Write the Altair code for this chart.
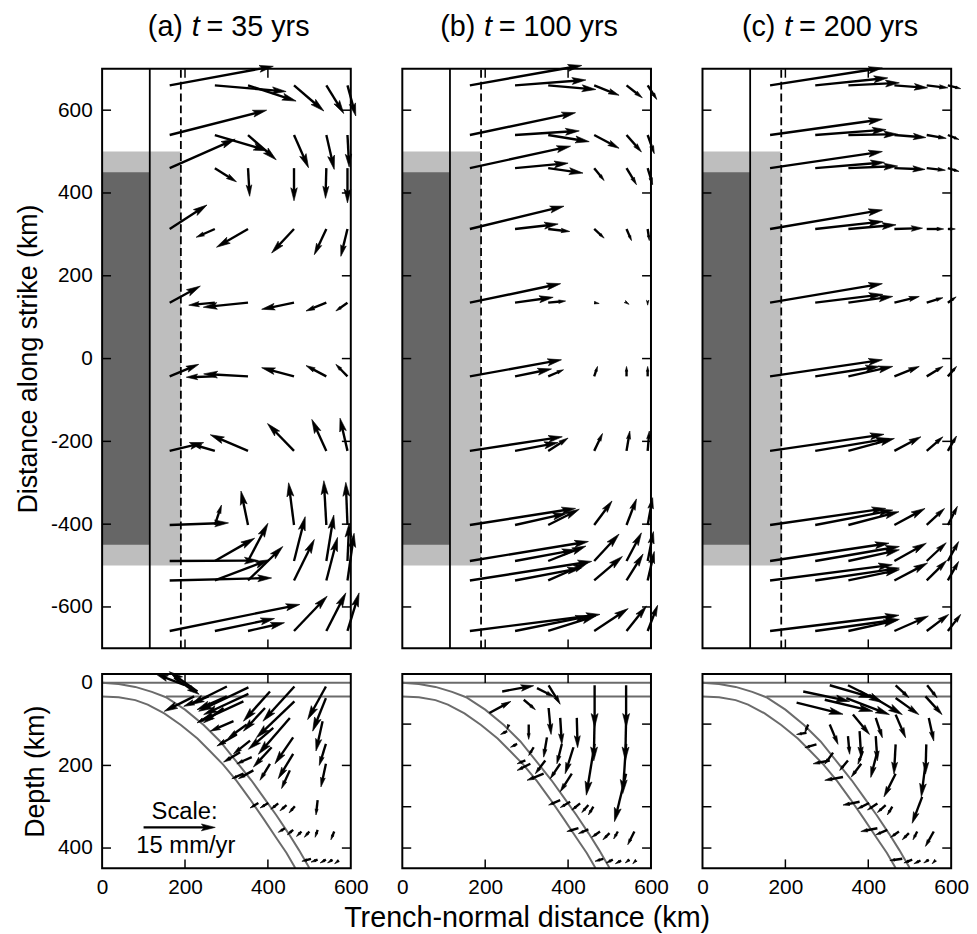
import math
import altair as alt
import pandas as pd

FONT = "Liberation Sans"
KM_PX = 251 / 600.0          # pixels per km (equal aspect)
TICK_KM = 9 / KM_PX          # inward tick length

# ---------------- map-view grid (top panels) ----------------
X_COLS = [163, 272, 352, 463, 541, 592]
Y_ROWS = [660, 540, 460, 313, 135, -43, -223, -402, -489, -536, -658]

A_DX = [
    [250, 172, 116, 72, 42, 20],
    [234, 127, 68, 35, 19, 4],
    [158, 52, 4, 0, -2, 0],
    [90, -45, -76, -54, -29, -16],
    [74, -63, -108, -78, -49, -28],
    [70, -69, -107, -78, -49, -28],
    [82, -55, -91, -64, -35, -18],
    [142, 16, -17, -13, -6, -4],
    [214, 96, 48, 27, 18, 4],
    [246, 131, 84, 49, 27, 16],
    [314, 144, 88, 80, 47, 28],
]
A_DY = [
    [46, -15, -38, -62, -68, -74],
    [60, -38, -60, -79, -83, -77],
    [70, -33, -68, -79, -73, -84],
    [58, -20, -44, -58, -62, -66],
    [40, -6, -11, -16, -20, -20],
    [29, -2, 6, 21, 26, 29],
    [20, 16, 39, 66, 76, 79],
    [5, 48, 82, 102, 107, 103],
    [1, 55, 91, 107, 111, 91],
    [6, 50, 82, 99, 104, 114],
    [64, 30, 20, 84, 92, 92],
]
B_DX = [
    [270, 171, 115, 60, 38, 22],
    [255, 155, 99, 60, 36, 16],
    [243, 128, 84, 24, 24, 12],
    [227, 104, 52, 24, 12, 4],
    [219, 92, 42, 12, 6, 0],
    [221, 88, 37, 8, 0, 0],
    [223, 104, 48, 20, 8, 4],
    [255, 125, 75, 43, 24, 12],
    [286, 147, 91, 60, 36, 14],
    [294, 160, 95, 68, 40, 16],
    [314, 179, 115, 82, 48, 24],
]
B_DY = [
    [48, 13, -10, -24, -30, -34],
    [54, 10, -16, -32, -41, -45],
    [53, 12, -12, -30, -40, -40],
    [55, 12, -6, -22, -28, -28],
    [46, 13, 4, -2, -4, -6],
    [40, 18, 16, 24, 24, 24],
    [34, 20, 31, 42, 48, 48],
    [40, 28, 38, 58, 63, 66],
    [47, 27, 36, 65, 68, 71],
    [46, 30, 42, 58, 64, 70],
    [40, 36, 36, 54, 60, 62],
]
C_DX = [
    [271, 175, 123, 80, 51, 31],
    [271, 171, 119, 76, 47, 27],
    [271, 167, 119, 74, 45, 27],
    [271, 163, 115, 68, 41, 18],
    [271, 163, 107, 60, 39, 20],
    [271, 155, 107, 60, 39, 21],
    [275, 179, 111, 64, 39, 21],
    [279, 187, 122, 74, 43, 23],
    [287, 203, 123, 77, 47, 26],
    [295, 203, 123, 80, 48, 26],
    [311, 203, 119, 82, 53, 31],
]
C_DY = [
    [42, 18, 6, -6, -6, -8],
    [38, 13, 2, -6, -8, -11],
    [40, 14, 5, -3, -5, -8],
    [46, 18, 10, 2, 0, 0],
    [46, 20, 15, 15, 12, 14],
    [40, 24, 24, 24, 24, 24],
    [40, 30, 30, 34, 34, 36],
    [40, 36, 32, 40, 40, 45],
    [43, 35, 27, 43, 44, 47],
    [38, 30, 26, 42, 48, 46],
    [38, 28, 26, 36, 40, 40],
]

# ---------------- cross-section arrows (bottom panels) ----------------
BA_X = [353, 353, 341, 301, 301, 293, 265, 405, 464, 464, 453, 540, 540, 532, 540, 540, 520, 560,
        461, 461, 453, 393, 413, 409, 405, 349, 357, 361, 365, 317, 325, 333, 341,
        377, 401, 425, 445, 465, 441, 461, 481, 500, 520, 504, 520, 540, 556, 571,
        198, 230, 174, 222, 257]
BA_D = [11, 27, 45, 9, 33, 61, 77, 21, 9, 45, 85, 9, 37, 93, 148, 196, 284, 360,
        132, 172, 212, 61, 109, 156, 196, 101, 140, 180, 212, 93, 125, 168, 220,
        291, 291, 292, 296, 299, 352, 356, 360, 360, 356, 426, 428, 428, 428, 430,
        5, 21, -12, 33, 33]
BA_U = [-120, -108, -104, -88, -72, -48, -36, -64, -76, -92, -76, -44, -32, -16, -16, -12, -4, -8,
        -44, -36, -20, -52, -60, -44, -24, -44, -40, -36, -36, -56, -48, -40, -28,
        -20, -20, -18, -16, -14, -16, -14, -12, -12, -6, -22, -16, -14, -12, -10,
        -68, -68, 60, -72, -60]
BA_W = [58, 50, 48, 44, 32, 36, 20, 72, 84, 88, 88, 80, 80, 72, 52, 56, 36, 20,
        64, 60, 44, 56, 52, 48, 40, 32, 32, 16, 20, 24, 28, 24, 12,
        12, 12, 14, 14, 16, 10, 12, 12, 14, 18, 6, 6, 8, 8, 8,
        -26, -48, 40, 36, 24]

BB_X = [241, 353, 325, 293, 210, 464, 540, 464, 540, 464, 540, 540, 560,
        421, 413, 409, 381, 385, 381, 353, 349, 345, 305, 317, 309, 341, 257, 253, 277, 297,
        381, 405, 429, 449, 461, 425, 449, 477, 500, 520, 485, 508, 528, 548, 564]
BB_D = [21, 6, 13, 41, 73, 6, 6, 85, 85, 148, 148, 220, 360,
        85, 156, 220, 85, 148, 196, 61, 132, 188, 101, 156, 196, 220, 101, 117, 148, 188,
        284, 288, 292, 296, 300, 352, 355, 360, 364, 360, 426, 428, 430, 428, 430]
BB_U = [76, 28, 40, 28, 52, 0, 0, -2, -2, -20, -8, -28, -16,
        2, -20, -28, 4, -12, -24, 6, -8, -24, 0, -12, -32, -40, -4, -16, -16, -20,
        -28, -24, -20, -16, -12, -28, -24, -20, -16, -10, -20, -16, -14, -10, -8]
BB_W = [-14, 46, 20, 24, -28, 102, 102, 104, 104, 124, 120, 116, 32,
        72, 64, 44, 64, 48, 36, 64, 48, 32, 36, 20, 16, 16, 12, 8, 8, 8,
        12, 14, 16, 18, 20, 8, 10, 14, 16, 18, 6, 8, 8, 8, 8]

BC_X = [243, 307, 351, 466, 542, 227, 295, 347, 402, 466, 538, 363, 418, 466, 546,
        307, 351, 379, 418, 466, 540, 466, 538, 530, 558, 387, 422, 383, 351, 315,
        255, 251, 275, 307, 339,
        379, 402, 422, 442, 458, 422, 446, 474, 498, 518, 482, 506, 526, 546, 562]
BC_D = [21, 6, 6, 6, 6, 48, 41, 37, 29, 37, 33, 77, 85, 77, 85,
        101, 129, 117, 129, 149, 149, 220, 196, 276, 360, 165, 165, 196, 188, 169,
        101, 121, 149, 188, 228,
        288, 291, 292, 296, 300, 352, 356, 360, 364, 360, 426, 428, 430, 428, 430]
BC_U = [112, 104, 84, 32, 24, 112, 116, 104, 80, 56, 40, 40, 16, 24, 12,
        20, 4, 4, 4, -4, -2, -28, -10, -24, -20, -12, -16, -24, -20, -20,
        -8, -24, -28, -40, -44,
        -40, -28, -24, -20, -12, -40, -28, -20, -16, -10, -30, -20, -16, -12, -8]
BC_W = [24, 30, 42, 30, 30, 28, 28, 40, 48, 40, 44, 48, 48, 56, 56,
        48, 44, 64, 60, 72, 72, 56, 80, 64, 36, 32, 64, 32, 24, 28,
        20, 4, 8, 8, 8,
        8, 14, 16, 18, 20, 8, 12, 14, 16, 20, 4, 8, 8, 8, 8]

# slab outlines and crust lines (cross-section)
SLAB_TOP_X = [0, 40, 80, 120, 154, 200, 245, 285, 325, 360, 390, 420, 450, 475, 500]
SLAB_TOP_D = [0, 3, 10, 22, 35, 65, 102, 142, 192, 236, 278, 320, 365, 405, 448]
SLAB_BOT_X = [0, 40, 80, 110, 150, 190, 230, 260, 292, 325, 357, 390, 420, 445, 466]
SLAB_BOT_D = [33, 35, 42, 53, 74, 102, 135, 165, 198, 238, 282, 330, 375, 412, 448]
SURFACE_X = [0, 600]
SURFACE_D = 0
MOHO_X = [154, 600]
MOHO_D = 33

# rupture zones (map view)
LIGHT_X = [0, 190]
LIGHT_Y = [-500, 500]
DARK_X = [0, 115]
DARK_Y = [-450, 450]
TRENCH_X = 115
DASH_X = 190

# scale arrow (15 mm/yr)
SCALE_TAIL = (100, 350)
SCALE_VEC = (173, 0)

X_DOMAIN = [0, 600]
TOP_DOMAIN = [-700, 700]
BOT_DOMAIN = [-21, 449]
TOP_YTICKS = [-600, -400, -200, 0, 200, 400, 600]
X_TICKS_IN = [200, 400]
X_LABELS = [0, 200, 400, 600]

HEAD_PATH = "M0,0L0.5,2L0,1.6L-0.5,2Z"
SHAFT_W = 2.4


def arrow_table(xs, ys, us, vs, down=False):
    rows = []
    for x, y, u, v in zip(xs, ys, us, vs):
        L = math.hypot(u, v)
        if L == 0:
            continue
        lpx = L * KM_PX
        head = min(14.0, max(5.0, 0.4 * lpx))
        cut = 0.75 * head / KM_PX
        f = max(0.0, 1 - cut / L)
        ang = math.degrees(math.atan2(u, -v if down else v)) % 360
        rows.append(dict(x=x, y=y, xe=x + u * f, ye=y + v * f,
                         tx=x + u, ty=y + v, ang=ang, size=head * head))
    return pd.DataFrame(rows)


def grid_vectors(DX, DY):
    xs, ys, us, vs = [], [], [], []
    for i, yv in enumerate(Y_ROWS):
        for j, xv in enumerate(X_COLS):
            xs.append(xv); ys.append(yv); us.append(DX[i][j]); vs.append(DY[i][j])
    return xs, ys, us, vs


def tick_table(ydom, yticks):
    rows = []
    tl = TICK_KM
    for v in yticks:
        rows.append(dict(x=X_DOMAIN[0], x2=X_DOMAIN[0] + tl, y=v, y2=v))
        rows.append(dict(x=X_DOMAIN[1] - tl, x2=X_DOMAIN[1], y=v, y2=v))
    lo, hi = ydom
    for v in X_TICKS_IN:
        rows.append(dict(x=v, x2=v, y=lo, y2=lo + tl))
        rows.append(dict(x=v, x2=v, y=hi - tl, y2=hi))
    return pd.DataFrame(rows)


def arrow_layers(df, X, Y):
    shafts = alt.Chart(df).mark_rule(color="black", strokeWidth=SHAFT_W).encode(
        x=X("x"), y=Y("y"), x2="xe", y2="ye")
    heads = alt.Chart(df).mark_point(shape=HEAD_PATH, filled=True, fill="black",
                                     stroke="black", strokeWidth=0.6, opacity=1).encode(
        x=X("tx"), y=Y("ty"),
        angle=alt.Angle("ang:Q", scale=None),
        size=alt.Size("size:Q", scale=None))
    return [shafts, heads]


def top_panel(DX, DY, tag, rest, show_y, pos):
    xs = alt.Scale(domain=X_DOMAIN, nice=False, zero=False)
    ys = alt.Scale(domain=TOP_DOMAIN, nice=False, zero=False)
    yaxis = None
    if show_y:
        yaxis = alt.Axis(values=TOP_YTICKS, ticks=False, domain=False, grid=False,
                         labelExpr="'' + datum.value", labelFont=FONT, labelFontSize=21,
                         labelColor="black", labelPadding=10,
                         title="Distance along strike (km)", titleFont=FONT,
                         titleFontSize=27, titleFontWeight="normal", titleColor="black",
                         titlePadding=8)
    X = lambda f: alt.X(f, type="quantitative", scale=xs, axis=None)
    Y = lambda f: alt.Y(f, type="quantitative", scale=ys, axis=yaxis)

    light = alt.Chart(pd.DataFrame({"x": [LIGHT_X[0]], "x2": [LIGHT_X[1]],
                                    "y": [LIGHT_Y[0]], "y2": [LIGHT_Y[1]]})).mark_rect(
        color="#bebebe").encode(x=X("x"), x2="x2", y=Y("y"), y2="y2")
    dark = alt.Chart(pd.DataFrame({"x": [DARK_X[0]], "x2": [DARK_X[1]],
                                   "y": [DARK_Y[0]], "y2": [DARK_Y[1]]})).mark_rect(
        color="#666666").encode(x=X("x"), x2="x2", y=Y("y"), y2="y2")
    trench = alt.Chart(pd.DataFrame({"x": [TRENCH_X], "y": [TOP_DOMAIN[0]], "y2": [TOP_DOMAIN[1]]})).mark_rule(
        color="black", strokeWidth=1.8).encode(x=X("x"), y=Y("y"), y2="y2")
    dash = alt.Chart(pd.DataFrame({"x": [DASH_X], "y": [TOP_DOMAIN[0]], "y2": [TOP_DOMAIN[1]]})).mark_rule(
        color="black", strokeWidth=1.8, strokeDash=[8, 4]).encode(x=X("x"), y=Y("y"), y2="y2")
    ticks = alt.Chart(tick_table(TOP_DOMAIN, TOP_YTICKS)).mark_rule(
        color="black", strokeWidth=1.5).encode(x=X("x"), x2="x2", y=Y("y"), y2="y2")
    frame = alt.Chart(pd.DataFrame({"x": [X_DOMAIN[0]], "x2": [X_DOMAIN[1]],
                                    "y": [TOP_DOMAIN[0]], "y2": [TOP_DOMAIN[1]]})).mark_rect(
        filled=False, color="black", strokeWidth=2).encode(x=X("x"), x2="x2", y=Y("y"), y2="y2")

    arrows = arrow_layers(arrow_table(*grid_vectors(DX, DY)), X, Y)

    p_tag, p_t, p_rest, ty = pos
    t1 = alt.Chart(pd.DataFrame({"x": [p_tag], "y": [ty], "s": [tag]})).mark_text(
        align="right", baseline="middle", font=FONT, fontSize=29, color="black").encode(
        x=X("x"), y=Y("y"), text="s:N")
    t2 = alt.Chart(pd.DataFrame({"x": [p_t], "y": [ty], "s": ["t"]})).mark_text(
        align="center", baseline="middle", font=FONT, fontSize=29, fontStyle="italic",
        color="black").encode(x=X("x"), y=Y("y"), text="s:N")
    t3 = alt.Chart(pd.DataFrame({"x": [p_rest], "y": [ty], "s": [rest]})).mark_text(
        align="left", baseline="middle", font=FONT, fontSize=29, color="black").encode(
        x=X("x"), y=Y("y"), text="s:N")

    return alt.layer(light, dark, trench, dash, ticks, *arrows, frame, t1, t2, t3).properties(
        width=251, height=585)


def bottom_panel(bx, bd, bu, bw, yticks_in, show_y, xtitle, scale_note):
    xs = alt.Scale(domain=X_DOMAIN, nice=False, zero=False)
    ys = alt.Scale(domain=BOT_DOMAIN, nice=False, zero=False, reverse=True)
    xaxis = alt.Axis(values=X_LABELS, ticks=False, domain=False, grid=False,
                     labelFont=FONT, labelFontSize=21, labelColor="black", labelPadding=8,
                     labelFlush=False, title=xtitle, titleFont=FONT, titleFontSize=29,
                     titleFontWeight="normal", titleColor="black", titlePadding=7)
    yaxis = None
    if show_y:
        yaxis = alt.Axis(values=[0, 200, 400], ticks=False, domain=False, grid=False,
                         labelFont=FONT, labelFontSize=21, labelColor="black", labelPadding=10,
                         title="Depth (km)", titleFont=FONT, titleFontSize=27,
                         titleFontWeight="normal", titleColor="black", titlePadding=8)
    X = lambda f: alt.X(f, type="quantitative", scale=xs, axis=xaxis)
    Y = lambda f: alt.Y(f, type="quantitative", scale=ys, axis=yaxis)

    gray = "#6b6b6b"
    hl = pd.DataFrame({"x": [SURFACE_X[0], MOHO_X[0]], "x2": [SURFACE_X[1], MOHO_X[1]],
                       "y": [SURFACE_D, MOHO_D]})
    hlines = alt.Chart(hl).mark_rule(color=gray, strokeWidth=2).encode(
        x=X("x"), x2="x2", y=Y("y"))
    slab = pd.concat([
        pd.DataFrame({"x": SLAB_TOP_X, "d": SLAB_TOP_D, "c": "top"}),
        pd.DataFrame({"x": SLAB_BOT_X, "d": SLAB_BOT_D, "c": "bottom"}),
    ])
    slab_lines = alt.Chart(slab).mark_line(color=gray, strokeWidth=2).encode(
        x=X("x"), y=Y("d"), detail="c:N")
    ticks = alt.Chart(tick_table(BOT_DOMAIN, yticks_in)).mark_rule(
        color="black", strokeWidth=1.5).encode(x=X("x"), x2="x2", y=Y("y"), y2="y2")
    frame = alt.Chart(pd.DataFrame({"x": [X_DOMAIN[0]], "x2": [X_DOMAIN[1]],
                                    "y": [BOT_DOMAIN[0]], "y2": [BOT_DOMAIN[1]]})).mark_rect(
        filled=False, color="black", strokeWidth=2).encode(x=X("x"), x2="x2", y=Y("y"), y2="y2")
    arrows = arrow_layers(arrow_table(bx, bd, bu, bw, down=True), X, Y)
    layers = [hlines, slab_lines, ticks] + arrows
    if scale_note:
        sa = arrow_table([SCALE_TAIL[0]], [SCALE_TAIL[1]], [SCALE_VEC[0]], [SCALE_VEC[1]], down=True)
        layers += arrow_layers(sa, X, Y)
        txt = pd.DataFrame({"x": [199, 202], "y": [314, 396], "s": ["Scale:", "15 mm/yr"]})
        layers.append(alt.Chart(txt).mark_text(align="center", baseline="middle", font=FONT,
                                               fontSize=24, color="black").encode(
            x=X("x"), y=Y("y"), text="s:N"))
    layers.append(frame)
    return alt.layer(*layers).properties(width=251, height=196)


TITLE_Y = 801
ta = top_panel(A_DX, A_DY, "(a)", "= 35 yrs", True, (195, 226, 252, TITLE_Y))
tb = top_panel(B_DX, B_DY, "(b)", "= 100 yrs", False, (176, 207, 233, TITLE_Y))
tc = top_panel(C_DX, C_DY, "(c)", "= 200 yrs", False, (176, 207, 233, TITLE_Y))

ba = bottom_panel(BA_X, BA_D, BA_U, BA_W, [200, 400], True, None, True)
bb = bottom_panel(BB_X, BB_D, BB_U, BB_W, [100, 200, 300, 400], False,
                  "Trench-normal distance (km)", False)
bc = bottom_panel(BC_X, BC_D, BC_U, BC_W, [100, 200, 300, 400], False, None, False)

chart = alt.concat(
    ta, tb, tc, ba, bb, bc,
    columns=3,
    spacing={"row": 26, "column": 52},
    bounds="flush",
    align="each",
).properties(
    padding={"left": 6, "top": 0, "right": 0, "bottom": 0}
).configure_view(stroke=None)

chart.save("out.html", embed_options={"renderer": "svg", "actions": False})
